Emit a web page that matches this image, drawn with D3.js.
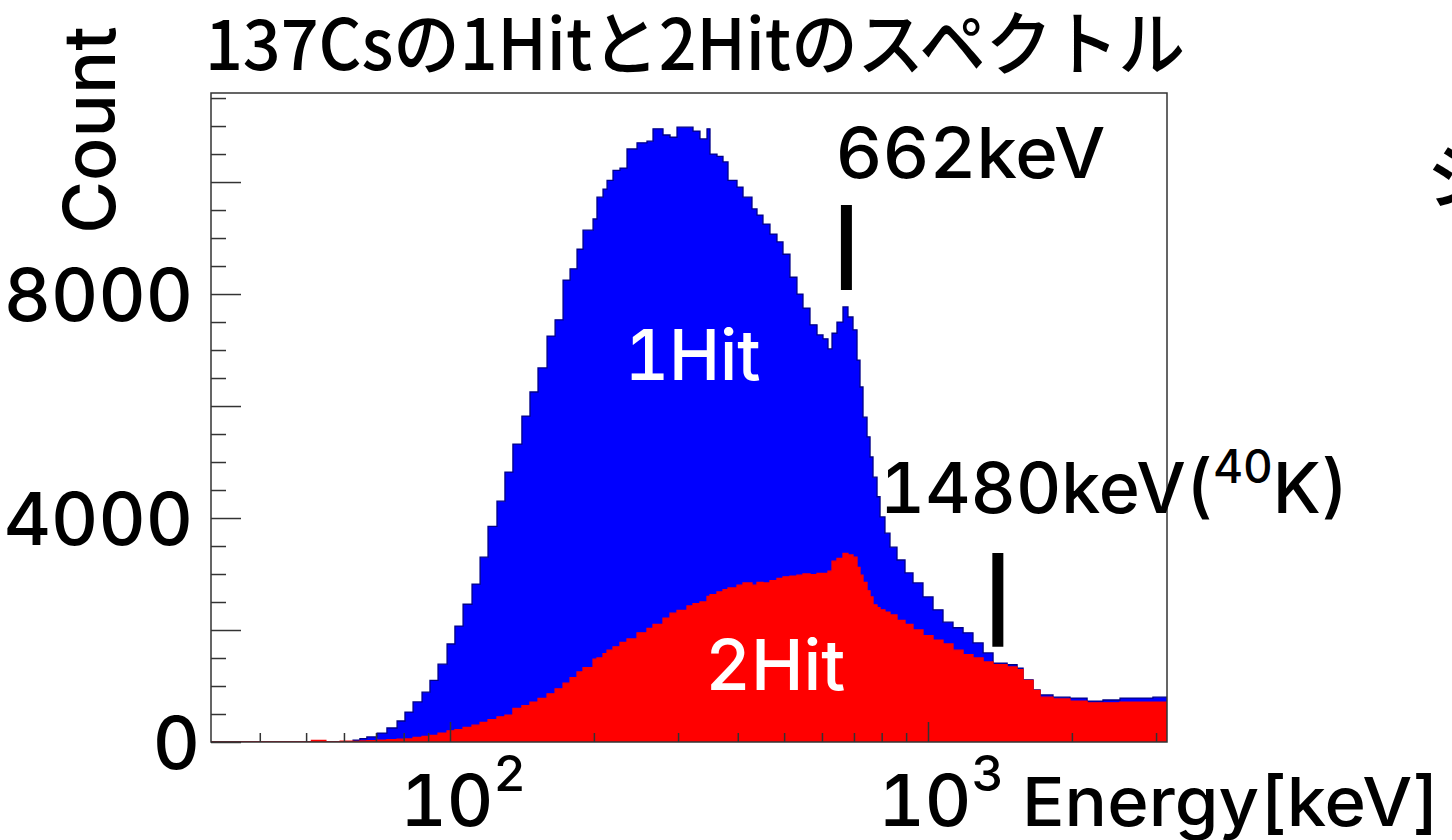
<!DOCTYPE html>
<html>
<head>
<meta charset="utf-8">
<script src="https://cdn.jsdelivr.net/npm/d3@7"></script>
<style>
  body { margin: 0; background: #fff; }
  svg { display: block; }
  text { font-family: Inter, "Noto Sans", "Noto Sans CJK JP", sans-serif; font-weight: 500; fill: #000;
    font-variant-numeric: tabular-nums; }
</style>
</head>
<body>
<div id="graph"></div>
<script>
// energy bins (keV), with counts for each spectrum
var energy = [31.6, 48.6, 51.3, 55, 58.9, 62.7, 64.8, 67.0, 70.4, 73.8, 77.5, 80.5, 83.7, 87.4, 90.8, 94.4, 98.6,
  102.4, 106.5, 111.2, 115.6, 120.1, 125.4, 130.3, 135.4, 141.4, 147.0, 152.8, 159.6, 165.9, 172.4, 178.3,
  184.4, 189.8, 199.2, 203.0, 209.0, 213.1, 219.3, 226.8, 234.6, 246.2, 258.3, 265.9, 279.0, 288.6, 298.5,
  313.2, 322.4, 333.4, 344.9, 349.9, 361.9, 372.5, 381.6, 398.5, 410.2, 428.3, 438.8, 451.6, 467.1, 483.1,
  497.3, 514.3, 531.9, 547.6, 566.4, 585.9, 603.0, 617.7, 629.8, 645.0, 664.0, 680.1, 696.8, 710.4, 720.7,
  731.2, 745.5, 756.4, 767.3, 782.3, 793.7, 812.8, 832.7, 861.3, 895.2, 930.3, 976.1, 1024.5, 1075, 1128,
  1184, 1242, 1304, 1368, 1464, 1536, 1581, 1659, 1716, 1826, 1982, 2152, 2323, 2522, 2737, 2955]

var hit1 = [0, 0, 0, 0, 5, 35, 60, 90, 160, 250, 375, 535, 715, 890, 1100, 1390, 1750,
  2070, 2460, 2820, 3300, 3850, 4300, 4820, 5320, 5820, 6250, 6680, 7250, 7540, 8250, 8450,
  8800, 9140, 9340, 9730, 9875, 10030, 10210, 10250, 10590, 10700, 10730, 10950, 10840, 10800, 10980,
  10980, 10910, 10770, 10950, 10500, 10460, 10360, 10030, 9910, 9730, 9520, 9410, 9250, 9070, 8930,
  8710, 8300, 8000, 7750, 7450, 7270, 7200, 7020, 7300, 7500, 7770, 7590, 7360, 6820, 6340,
  5800, 5450, 5090, 4730, 4380, 4020, 3730, 3480, 3250, 3020, 2840, 2590, 2360, 2140, 2040,
  1950, 1770, 1590, 1410, 1380, 1320, 1110, 930, 840, 800, 785, 730, 750, 785, 785, 800]

var hit2 = [0, 0, 30, 0, 15, 10, 20, 25, 35, 40, 50, 55, 80, 100, 120, 160, 200,
  220, 260, 300, 350, 400, 450, 480, 600, 650, 710, 780, 860, 950, 1050, 1150,
  1250, 1330, 1480, 1500, 1580, 1640, 1700, 1780, 1840, 1950, 2030, 2100, 2210, 2300, 2350,
  2430, 2470, 2500, 2600, 2630, 2680, 2720, 2750, 2800, 2840, 2800, 2850, 2840, 2880, 2920,
  2950, 2960, 2980, 3000, 2990, 3010, 3010, 3050, 3230, 3280, 3370, 3340, 3300, 3120, 2980,
  2850, 2700, 2590, 2450, 2400, 2360, 2320, 2270, 2170, 2100, 2000, 1900, 1820, 1750, 1640,
  1560, 1500, 1430, 1380, 1340, 1290, 1100, 920, 800, 770, 730, 700, 700, 710, 710, 710]

var yMajorTicks = [0, 2000, 4000, 6000, 8000, 10000]
var yLabels = [0, 4000, 8000]
var xMajorTicks = [100, 1000]
var xMinorTicks = [40, 50, 60, 70, 80, 90, 200, 300, 400, 500, 600, 700, 800, 900, 2000, 3000]
var xLabels = [{v: 100, exp: '2'}, {v: 1000, exp: '3'}]

// peak markers: energy, count span of the bar
var markers = [
  {e: 675, top: 9590, bottom: 8070},
  {e: 1400, top: 3375, bottom: 1700}
]

var title = '137Csの1Hitと2Hitのスペクトル'

function init(){
  var sel = d3.select('#graph').html('')
  var W = 1452, H = 840
  var svg = sel.append('svg').attr('width', W).attr('height', H)

  var x = d3.scaleLog().domain([Math.pow(10, 1.5), Math.pow(10, 3.5)]).range([211, 1167])
  var y = d3.scaleLinear().domain([0, 11590]).range([742, 93])

  var pts = d => d.map((v, i) => [energy[i], v]).concat([[x.domain()[1], d[d.length - 1]]])

  svg.append('clipPath').attr('id', 'clip')
    .append('rect').attr('x', 211).attr('y', 93).attr('width', 956).attr('height', 649)

  var plot = svg.append('g').attr('clip-path', 'url(#clip)')

  var area = d3.area().curve(d3.curveStepAfter)
    .x(d => x(d[0])).y0(y(0)).y1(d => y(d[1]))
  var line = d3.line().curve(d3.curveStepAfter)
    .x(d => x(d[0])).y(d => y(d[1]))

  plot.append('path').datum(pts(hit1))
    .attr('d', area).attr('fill', '#0000ff')
  plot.append('path').datum(pts(hit1))
    .attr('d', line).attr('fill', 'none').attr('stroke', '#000088').attr('stroke-width', 1.3)

  plot.append('path').datum(pts(hit2))
    .attr('d', area).attr('fill', '#ff0000')
  plot.append('path').datum(pts(hit2))
    .attr('d', line).attr('fill', 'none').attr('stroke', '#ff0000').attr('stroke-width', 1.3)

  // frame
  svg.append('rect').attr('x', 211).attr('y', 93).attr('width', 956).attr('height', 649)
    .attr('fill', 'none').attr('stroke', '#333').attr('stroke-width', 1.5)

  // y ticks (inside, from the left edge)
  var yMinor = d3.range(0, 11590, 500).filter(v => v % 2000)
  svg.append('g').attr('transform', 'translate(211,0)')
    .call(d3.axisRight(y).tickValues(yMinor).tickSize(15).tickFormat(''))
  svg.append('g').attr('transform', 'translate(211,0)')
    .call(d3.axisRight(y).tickValues(yMajorTicks).tickSize(30).tickFormat(''))

  // x ticks (inside, from the bottom)
  svg.append('g').attr('transform', 'translate(0,742)')
    .call(d3.axisTop(x).tickValues(xMinorTicks).tickSize(9).tickFormat(''))
  svg.append('g').attr('transform', 'translate(0,742)')
    .call(d3.axisTop(x).tickValues(xMajorTicks).tickSize(20).tickFormat(''))

  svg.selectAll('.domain').remove()
  svg.selectAll('.tick line').attr('stroke', '#333').attr('stroke-width', 1.5)

  // y labels
  svg.selectAll('.ylab').data(yLabels).enter().append('text')
    .attr('x', d => d ? 193 : 200).attr('y', d => y(d))
    .attr('text-anchor', 'end').attr('dominant-baseline', 'central')
    .attr('font-size', 73)
    .text(d => d)

  // x labels 10^n
  xLabels.forEach(d => {
    var t = svg.append('text')
      .attr('x', x(d.v) + 13).attr('y', 826)
      .attr('text-anchor', 'middle').attr('font-size', 72)
    t.append('tspan').text('10')
    t.append('tspan').attr('dy', -35).attr('font-size', 50).text(d.exp)
  })

  svg.append('text').attr('x', 1022).attr('y', 826)
    .attr('font-size', 68).attr('textLength', 418).attr('lengthAdjust', 'spacingAndGlyphs')
    .text('Energy[keV]')

  svg.append('text')
    .attr('transform', 'translate(115,130) rotate(-90)')
    .attr('text-anchor', 'middle').attr('font-size', 72)
    .text('Count')

  svg.append('text').attr('x', 205).attr('y', 70)
    .attr('font-size', 70).attr('font-weight', 700)
    .style('font-family', '"Noto Sans CJK JP", sans-serif')
    .attr('textLength', 980).attr('lengthAdjust', 'spacingAndGlyphs')
    .text(title)

  // markers
  svg.selectAll('.marker').data(markers).enter().append('line')
    .attr('x1', d => x(d.e)).attr('x2', d => x(d.e))
    .attr('y1', d => y(d.top)).attr('y2', d => y(d.bottom))
    .attr('stroke', '#000').attr('stroke-width', 11)

  svg.append('text')
    .attr('x', x(markers[0].e) - 11).attr('y', y(markers[0].top) - 27)
    .attr('font-size', 70).attr('textLength', 270).attr('lengthAdjust', 'spacingAndGlyphs')
    .text('662keV')

  var k = svg.append('text')
    .attr('x', x(markers[1].e) - 118).attr('y', y(markers[1].top) - 40)
    .attr('font-size', 70)
  k.append('tspan').text('1480keV(')
  k.append('tspan').attr('dy', -30).attr('font-size', 46).text('40')
  k.append('tspan').attr('dy', 30).text('K)')

  // series labels
  svg.append('text').attr('x', x(232)).attr('y', y(6460))
    .attr('font-size', 70).style('fill', '#fff')
    .attr('textLength', 136).attr('lengthAdjust', 'spacingAndGlyphs').text('1Hit')
  svg.append('text').attr('x', x(342)).attr('y', y(930))
    .attr('font-size', 70).style('fill', '#fff')
    .attr('textLength', 140).attr('lengthAdjust', 'spacingAndGlyphs').text('2Hit')

  // edge of the neighbouring chart's title
  svg.append('text').attr('x', 1426).attr('y', 203)
    .attr('font-size', 72)
    .style('font-family', '"Noto Sans CJK JP", sans-serif').attr('font-weight', 700)
    .text('シ')
}

init()
</script>
</body>
</html>
